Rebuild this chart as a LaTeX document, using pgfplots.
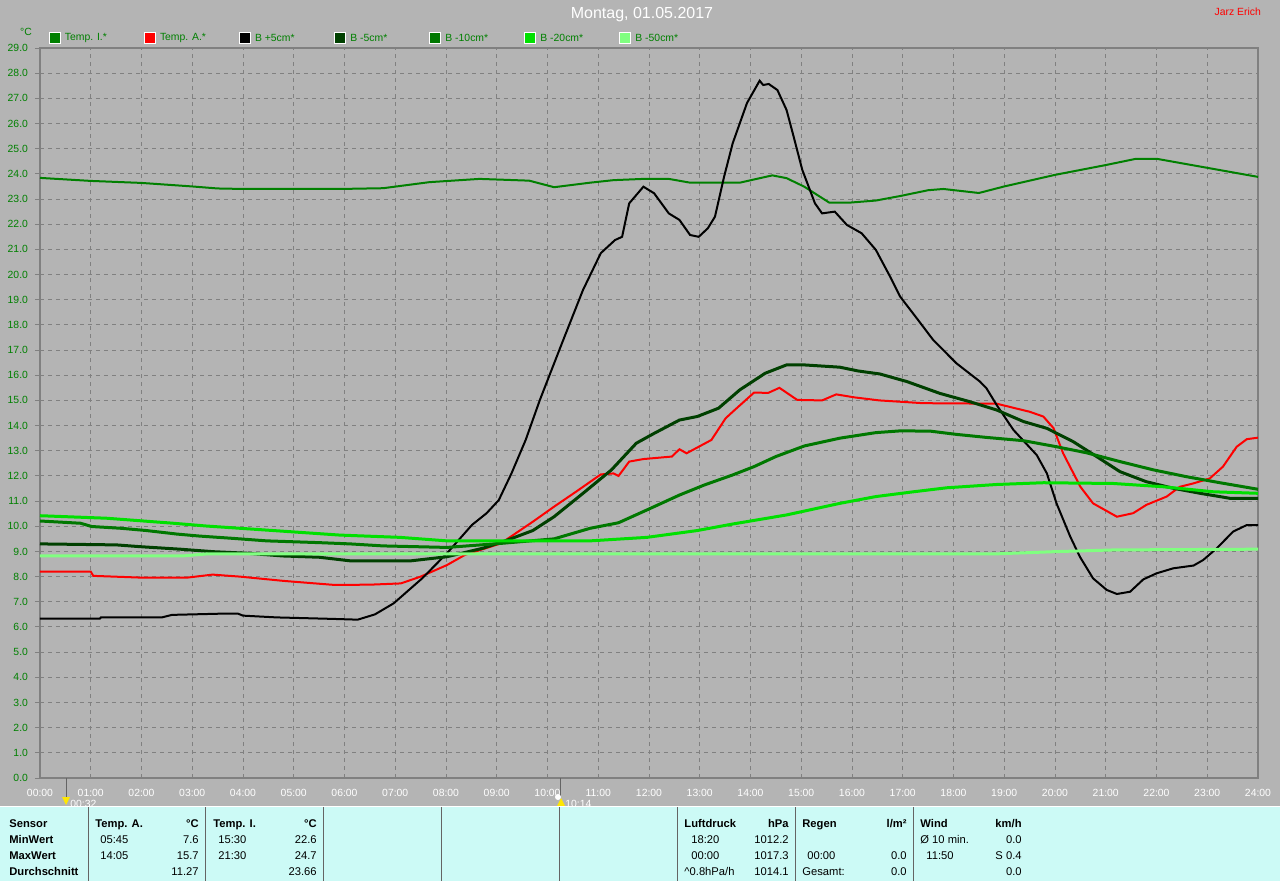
\documentclass[border=0pt]{standalone}
\usepackage{pgfplots}
\pgfplotsset{compat=1.18}
\usepackage{fontspec}
\setmainfont{Liberation Sans}
\definecolor{bgc}{RGB}{180,180,180}
\definecolor{gridc}{RGB}{128,128,128}
\definecolor{axc}{RGB}{128,128,128}
\definecolor{ti}{RGB}{0,128,0}
\definecolor{b5}{RGB}{0,64,0}
\definecolor{b10}{RGB}{0,120,0}
\definecolor{b20}{RGB}{0,224,0}
\definecolor{b50}{RGB}{128,255,128}
\definecolor{panel}{RGB}{204,250,246}
\definecolor{labg}{RGB}{0,128,0}
\definecolor{sepc}{RGB}{100,100,100}
\newcommand{\sm}{\fontsize{5.2}{6}\selectfont}
\newcommand{\tb}{\fontsize{5.6}{6.5}\selectfont}
\begin{document}
\begin{tikzpicture}
\begin{scope}[x=0.5pt,y=-0.5pt]
\fill[bgc] (0,0) rectangle (1280,881);
\end{scope}
\begin{axis}[
  at={(20pt,-389pt)}, anchor=south west,
  scale only axis, width=609pt, height=365pt,
  xmin=0, xmax=24, ymin=0, ymax=29,
  xtick={0,...,24},
  xticklabels={00:00,01:00,02:00,03:00,04:00,05:00,06:00,07:00,08:00,09:00,10:00,11:00,12:00,13:00,14:00,15:00,16:00,17:00,18:00,19:00,20:00,21:00,22:00,23:00,24:00},
  ytick={0,...,29},
  grid=major,
  major grid style={draw=gridc, line width=0.5pt, dash pattern=on 2pt off 2pt},
  axis line style={draw=axc, line width=1pt},
  ytick pos=left, xtick pos=bottom,
  tick align=outside,
  major tick length=2.5pt,
  xtick style={draw=none},
  ytick style={draw=axc, line width=0.5pt},
  tick label style={font=\sm},
  xticklabel style={text=white, yshift=0.4pt},
  yticklabel style={text=labg, /pgf/number format/fixed, /pgf/number format/fixed zerofill, /pgf/number format/precision=1},
  /pgf/number format/assume math mode=true,
  clip=true,
]
% Temp. I.
\addplot[color=ti, line width=1pt] coordinates {
(0,23.84) (1,23.72) (2,23.64) (3,23.5) (3.5,23.42) (4,23.4) (5,23.4) (5.91,23.4) (6.76,23.43) (7.67,23.67) (8.66,23.8) (9.64,23.73) (10.13,23.47) (10.84,23.65) (11.3,23.75) (11.89,23.8) (12.39,23.8) (12.81,23.65) (13.79,23.65) (14.43,23.94) (14.71,23.83) (15.06,23.49) (15.55,22.86) (15.97,22.86) (16.47,22.94) (16.95,23.12) (17.5,23.35) (17.8,23.4) (18.5,23.24) (19,23.5) (20,23.96) (21,24.35) (21.6,24.6) (22,24.6) (23,24.24) (24,23.88)
};
% Temp. A.
\addplot[color=red, line width=1pt] coordinates {
(0,8.2) (1.0,8.2) (1.05,8.03) (2,7.96) (2.9,7.96) (3.4,8.08) (3.94,8.0) (4.8,7.83) (5.8,7.67) (6.5,7.68) (7.11,7.73) (7.5,8.0) (8.02,8.46) (8.37,8.86) (9.08,9.32) (9.71,10.18) (10.13,10.78) (10.56,11.37) (11.05,12.06) (11.3,12.1) (11.4,12.0) (11.61,12.57) (11.89,12.67) (12.45,12.77) (12.6,13.06) (12.74,12.9) (13.23,13.43) (13.51,14.29) (13.65,14.55) (14.07,15.31) (14.35,15.3) (14.57,15.5) (14.92,15.02) (15.41,15.0) (15.69,15.24) (16.05,15.12) (16.54,15.0) (17.4,14.89) (18.85,14.87) (19.5,14.55) (19.77,14.36) (19.97,13.9) (20.16,12.9) (20.5,11.57) (20.75,10.91) (21.22,10.38) (21.54,10.52) (21.8,10.85) (22.2,11.18) (22.46,11.57) (22.72,11.7) (23.05,11.9) (23.31,12.37) (23.58,13.16) (23.78,13.46) (24,13.52)
};
% B +5cm
\addplot[color=black, line width=1pt] coordinates {
(0,6.33) (1.18,6.33) (1.2,6.38) (2.4,6.38) (2.6,6.48) (3.6,6.53) (3.9,6.53) (4.0,6.45) (4.66,6.38) (5.78,6.32) (6.26,6.29) (6.6,6.5) (6.97,6.94) (7.53,7.93) (8.02,8.93) (8.51,10.05) (8.8,10.52) (9.04,11.04) (9.29,12.1) (9.57,13.43) (9.85,15.02) (10.13,16.47) (10.31,17.4) (10.7,19.39) (11.05,20.85) (11.33,21.37) (11.47,21.5) (11.61,22.83) (11.89,23.49) (12.1,23.23) (12.39,22.43) (12.6,22.17) (12.81,21.57) (12.98,21.5) (13.16,21.84) (13.3,22.3) (13.48,23.89) (13.65,25.22) (13.93,26.81) (14.18,27.7) (14.25,27.53) (14.36,27.57) (14.53,27.33) (14.71,26.54) (14.85,25.48) (15.02,24.16) (15.27,22.83) (15.41,22.43) (15.66,22.5) (15.9,21.97) (16.19,21.64) (16.47,20.98) (16.75,19.92) (16.95,19.12) (17.3,18.2) (17.6,17.4) (18.06,16.47) (18.52,15.75) (18.65,15.48) (18.85,14.82) (19.18,13.83) (19.64,12.83) (19.84,12.1) (20.03,10.91) (20.3,9.59) (20.49,8.79) (20.75,7.93) (21.02,7.47) (21.22,7.31) (21.48,7.40) (21.74,7.89) (22.0,8.13) (22.33,8.33) (22.73,8.44) (22.92,8.66) (23.19,9.13) (23.51,9.79) (23.78,10.05) (24,10.05)
};
% B -5cm
\addplot[color=b5, line width=1.5pt] coordinates {
(0,9.3) (1.51,9.26) (1.97,9.19) (2.76,9.09) (3.42,8.99) (4.07,8.93) (4.79,8.82) (5.5,8.77) (6.1,8.63) (7.32,8.63) (8.02,8.79) (8.73,9.13) (9.22,9.46) (9.71,9.83) (10.13,10.38) (10.7,11.31) (11.26,12.24) (11.75,13.3) (12.1,13.69) (12.6,14.22) (12.95,14.36) (13.37,14.69) (13.79,15.42) (14.29,16.08) (14.71,16.41) (15.06,16.41) (15.76,16.32) (16.12,16.17) (16.55,16.05) (17.08,15.75) (17.73,15.28) (18.32,14.95) (18.85,14.62) (19.38,14.16) (19.84,13.89) (20.36,13.36) (20.82,12.77) (21.28,12.17) (21.8,11.77) (22.33,11.51) (22.86,11.31) (23.45,11.11) (24,11.11)
};
% B -10cm
\addplot[color=b10, line width=1.5pt] coordinates {
(0,10.21) (0.8,10.12) (1.02,9.99) (1.6,9.92) (2.1,9.83) (2.7,9.69) (3.15,9.61) (3.8,9.52) (4.47,9.42) (5.5,9.35) (6.11,9.3) (6.76,9.22) (8.02,9.16) (9.08,9.32) (10.13,9.5) (10.84,9.92) (11.4,10.14) (11.96,10.65) (12.6,11.24) (13.09,11.64) (13.65,12.04) (14.07,12.37) (14.5,12.77) (15.06,13.19) (15.76,13.5) (16.47,13.72) (16.95,13.79) (17.54,13.78) (18.06,13.65) (18.65,13.53) (19.38,13.4) (20.03,13.16) (20.62,12.92) (21.28,12.57) (21.94,12.24) (22.59,11.97) (23.25,11.73) (24,11.47)
};
% B -20cm
\addplot[color=b20, line width=1.5pt] coordinates {
(0,10.42) (1.31,10.32) (1.97,10.22) (2.63,10.12) (3.28,10.01) (3.94,9.92) (4.6,9.83) (5.91,9.65) (7.09,9.56) (8.02,9.42) (10.84,9.42) (11.96,9.56) (12.95,9.83) (13.65,10.09) (14.71,10.45) (15.76,10.91) (16.47,11.18) (17.21,11.37) (17.87,11.53) (18.85,11.66) (19.77,11.73) (21.15,11.7) (22.13,11.57) (23.12,11.37) (24,11.31)
};
% B -50cm
\addplot[color=b50, line width=1.5pt] coordinates {
(0,8.82) (2.8,8.82) (3.28,8.9) (18.79,8.9) (19.97,8.99) (21.15,9.06) (24,9.09)
};
\end{axis}
\begin{scope}[x=0.5pt,y=-0.5pt]
% title
\node[text=white, font=\fontsize{8}{9}\selectfont] at (642,15) {Montag, 01.05.2017};
\node[text=red, font=\fontsize{5.2}{6}\selectfont, anchor=east] at (1268,12) {Jarz Erich};
\node[text=labg, font=\sm] at (26,32) {°C};
% legend
\foreach \sx/\lab/\col in {54.5/Temp. I.*/ti, 149.6/Temp. A.*/red, 244.6/B +5cm*/black, 340/B -5cm*/b5, 435/B -10cm*/b10, 530/B -20cm*/b20, 625/B -50cm*/b50}{
  \fill[white] (\sx-6,32) rectangle (\sx+6,44);
  \fill[\col] (\sx-5,33) rectangle (\sx+5,43);
  \node[anchor=west, text=labg, font=\sm, inner sep=0pt] at (\sx+10,38) {\lab};
}
% markers
\draw[sepc, line width=0.5pt] (66,778) -- (66,797);
\draw[sepc, line width=0.5pt] (560,778) -- (560,797);
\fill[yellow!90!orange] (62,797) -- (70,797) -- (66,805) -- cycle;
\fill[yellow!90!orange] (557,806) -- (565,806) -- (561,798) -- cycle;
\fill[white] (558,797) circle (3);
\node[anchor=west, text=white, font=\sm, inner sep=0pt] at (70,803.5) {00:32};
\node[anchor=west, text=white, font=\sm, inner sep=0pt] at (565,803.5) {10:14};
% panel
\fill[panel] (0,806) rectangle (1280,881);
\draw[white, line width=0.5pt] (0,806.5) -- (1280,806.5);
\foreach \xx in {88,205,323,441,559,677,795,913} \draw[sepc, line width=0.5pt] (\xx,807) -- (\xx,881);
\begin{scope}[every node/.style={inner sep=0pt}]
% headers (bold)
\node[anchor=base west, font=\tb\bfseries] at (9,827) {Sensor};
\node[anchor=base west, font=\tb\bfseries] at (9,843) {MinWert};
\node[anchor=base west, font=\tb\bfseries] at (9,859) {MaxWert};
\node[anchor=base west, font=\tb\bfseries] at (9,875) {Durchschnitt};
\node[anchor=base west, font=\tb\bfseries] at (95,827) {Temp. A.};
\node[anchor=base east, font=\tb\bfseries] at (199,827) {°C};
\node[anchor=base west, font=\tb\bfseries] at (213,827) {Temp. I.};
\node[anchor=base east, font=\tb\bfseries] at (317,827) {°C};
\node[anchor=base west, font=\tb\bfseries] at (684,827) {Luftdruck};
\node[anchor=base east, font=\tb\bfseries] at (789,827) {hPa};
\node[anchor=base west, font=\tb\bfseries] at (802,827) {Regen};
\node[anchor=base east, font=\tb\bfseries] at (907,827) {l/m²};
\node[anchor=base west, font=\tb\bfseries] at (920,827) {Wind};
\node[anchor=base east, font=\tb\bfseries] at (1022,827) {km/h};
% values
\node[anchor=base west, font=\tb] at (100,843) {05:45};
\node[anchor=base east, font=\tb] at (199,843) {7.6};
\node[anchor=base west, font=\tb] at (100,859) {14:05};
\node[anchor=base east, font=\tb] at (199,859) {15.7};
\node[anchor=base east, font=\tb] at (199,875) {11.27};
\node[anchor=base west, font=\tb] at (218,843) {15:30};
\node[anchor=base east, font=\tb] at (317,843) {22.6};
\node[anchor=base west, font=\tb] at (218,859) {21:30};
\node[anchor=base east, font=\tb] at (317,859) {24.7};
\node[anchor=base east, font=\tb] at (317,875) {23.66};
\node[anchor=base west, font=\tb] at (691,843) {18:20};
\node[anchor=base east, font=\tb] at (789,843) {1012.2};
\node[anchor=base west, font=\tb] at (691,859) {00:00};
\node[anchor=base east, font=\tb] at (789,859) {1017.3};
\node[anchor=base west, font=\tb] at (684,875) {\^{}0.8hPa/h};
\node[anchor=base east, font=\tb] at (789,875) {1014.1};
\node[anchor=base west, font=\tb] at (807,859) {00:00};
\node[anchor=base east, font=\tb] at (907,859) {0.0};
\node[anchor=base west, font=\tb] at (802,875) {Gesamt:};
\node[anchor=base east, font=\tb] at (907,875) {0.0};
\node[anchor=base west, font=\tb] at (920,843) {Ø 10 min.};
\node[anchor=base east, font=\tb] at (1022,843) {0.0};
\node[anchor=base west, font=\tb] at (926,859) {11:50};
\node[anchor=base east, font=\tb] at (1022,859) {S 0.4};
\node[anchor=base east, font=\tb] at (1022,875) {0.0};
\end{scope}
\end{scope}
\pgfresetboundingbox
\useasboundingbox (0,0) rectangle (640pt,-440.5pt);
\end{tikzpicture}
\end{document}
